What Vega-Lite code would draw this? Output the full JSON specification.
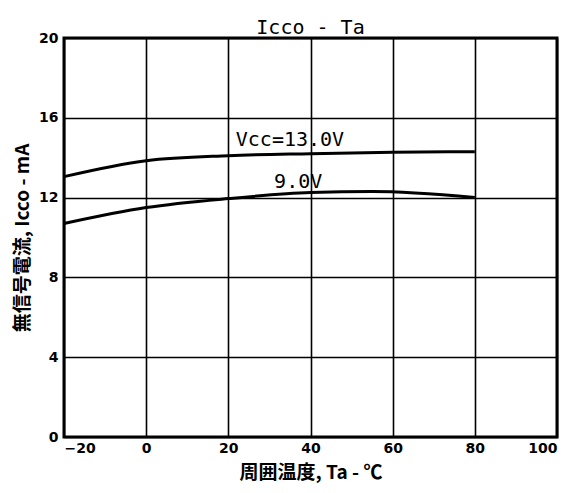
{
  "$schema": "https://vega.github.io/schema/vega-lite/v6.json",
  "autosize": {"type": "none"},
  "width": 493,
  "height": 399,
  "padding": {"left": 64, "top": 38, "right": 14, "bottom": 56},
  "background": "white",
  "title": {"text": "Icco - Ta", "font": "DejaVu Sans Mono", "fontSize": 20, "fontWeight": "normal", "color": "black", "offset": -7},
  "config": {
    "view": {"stroke": "black", "strokeWidth": 3},
    "axis": {
      "grid": true, "gridColor": "black", "gridWidth": 1.6, "gridOpacity": 1,
      "domain": false, "ticks": false,
      "labelFont": "DejaVu Sans", "labelFontWeight": "bold", "labelFontSize": 14, "labelColor": "black",
      "titleFont": "Noto Sans CJK JP", "titleFontWeight": "bold", "titleFontSize": 19, "titleColor": "black"
    }
  },
  "datasets": {
    "curves": [
      {"ta": -20, "icco": 13.05, "vcc": "13.0V"},
      {"ta": 0, "icco": 13.85, "vcc": "13.0V"},
      {"ta": 20, "icco": 14.1, "vcc": "13.0V"},
      {"ta": 40, "icco": 14.2, "vcc": "13.0V"},
      {"ta": 60, "icco": 14.27, "vcc": "13.0V"},
      {"ta": 80, "icco": 14.3, "vcc": "13.0V"},
      {"ta": -20, "icco": 10.7, "vcc": "9.0V"},
      {"ta": 0, "icco": 11.5, "vcc": "9.0V"},
      {"ta": 20, "icco": 11.95, "vcc": "9.0V"},
      {"ta": 40, "icco": 12.25, "vcc": "9.0V"},
      {"ta": 55, "icco": 12.3, "vcc": "9.0V"},
      {"ta": 80, "icco": 12.0, "vcc": "9.0V"}
    ],
    "labels": [
      {"ta": 35, "icco": 14.9, "text": "Vcc=13.0V"},
      {"ta": 37, "icco": 12.8, "text": "9.0V"}
    ]
  },
  "layer": [
    {
      "data": {"name": "curves"},
      "mark": {"type": "line", "color": "black", "strokeWidth": 3, "interpolate": "monotone"},
      "encoding": {
        "x": {"field": "ta", "type": "quantitative", "scale": {"domain": [-20, 100], "nice": false},
              "axis": {"values": [-20, 0, 20, 40, 60, 80, 100], "title": "周囲温度, Ta - ℃", "labelPadding": 4, "titlePadding": 8}},
        "y": {"field": "icco", "type": "quantitative", "scale": {"domain": [0, 20], "nice": false},
              "axis": {"values": [0, 4, 8, 12, 16, 20], "title": "無信号電流, Icco - mA", "labelPadding": 6, "titlePadding": 6}},
        "detail": {"field": "vcc"}
      }
    },
    {
      "data": {"name": "labels"},
      "mark": {"type": "text", "font": "DejaVu Sans Mono", "fontSize": 20, "color": "black", "align": "center", "baseline": "middle"},
      "encoding": {
        "x": {"field": "ta", "type": "quantitative"},
        "y": {"field": "icco", "type": "quantitative"},
        "text": {"field": "text"}
      }
    }
  ]
}
